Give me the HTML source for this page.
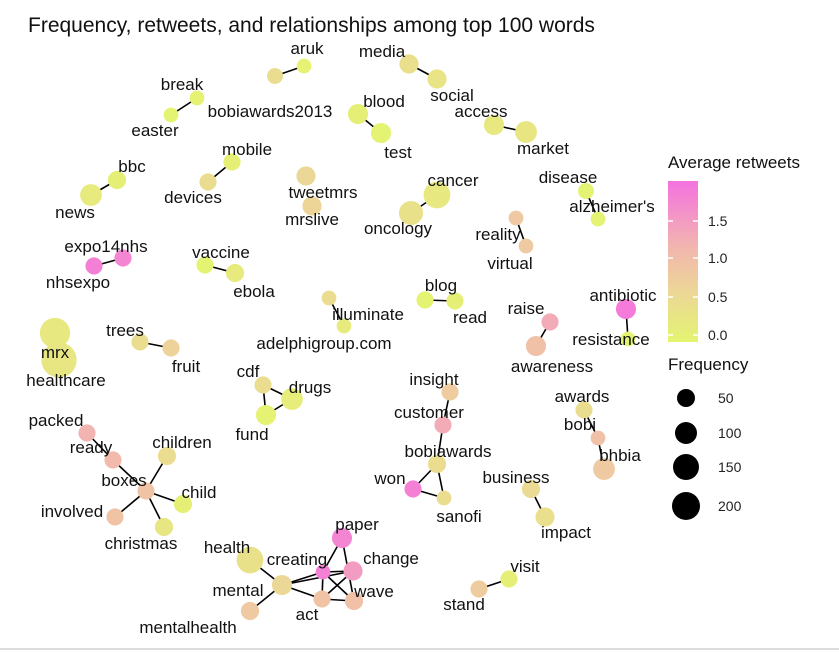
<!DOCTYPE html>
<html><head><meta charset="utf-8"><style>
html,body{margin:0;padding:0;background:#fff;}
svg{display:block;font-family:"Liberation Sans",sans-serif;}
</style></head><body>
<svg id="chart" width="839" height="652">
<rect x="0" y="0" width="839" height="652" fill="#fff"/>
<line x1="0" y1="649" x2="839" y2="649" stroke="#ddd" stroke-width="2"/>
<text x="28" y="32" font-size="21" fill="#111">Frequency, retweets, and relationships among top 100 words</text>
<g id="edges"></g><g id="nodes"></g><g id="labels"></g>
<g id="legend">
<defs><linearGradient id="grad" x1="0" y1="1" x2="0" y2="0">
<stop offset="0" stop-color="#e4f470"/><stop offset="0.3" stop-color="#ecd896"/><stop offset="0.6" stop-color="#f2b4b0"/><stop offset="1" stop-color="#f472e0"/></linearGradient></defs>
<text x="668" y="168" font-size="17" fill="#111">Average retweets</text>
<rect x="668" y="181" width="30" height="161" fill="url(#grad)"/>
<g font-size="14" fill="#222">
<text x="708" y="226">1.5</text>
<text x="708" y="263">1.0</text>
<text x="708" y="302">0.5</text>
<text x="708" y="340">0.0</text>
</g>
<g stroke="#fff" stroke-width="1.5">
<line x1="668" y1="221" x2="673" y2="221"/><line x1="693" y1="221" x2="698" y2="221"/>
<line x1="668" y1="258" x2="673" y2="258"/><line x1="693" y1="258" x2="698" y2="258"/>
<line x1="668" y1="297" x2="673" y2="297"/><line x1="693" y1="297" x2="698" y2="297"/>
<line x1="668" y1="335" x2="673" y2="335"/><line x1="693" y1="335" x2="698" y2="335"/>
</g>
<text x="668" y="370" font-size="17" fill="#111">Frequency</text>
<circle cx="686" cy="398" r="9" fill="#000"/>
<circle cx="686" cy="433" r="11" fill="#000"/>
<circle cx="686" cy="467" r="13" fill="#000"/>
<circle cx="686" cy="506" r="14" fill="#000"/>
<g font-size="14" fill="#222">
<text x="718" y="403">50</text><text x="718" y="438">100</text><text x="718" y="472">150</text><text x="718" y="511">200</text>
</g>
</g>
</svg>
<script>
const words=["aruk","bobiawards2013","media","social","break","easter","blood","test","access","market","mobile","devices","bbc","news","tweetmrs","mrslive","cancer","oncology","disease","alzheimer's","reality","virtual","expo14nhs","nhsexpo","vaccine","ebola","illuminate","adelphigroup.com","blog","read","antibiotic","resistance","raise","awareness","mrx","healthcare","trees","fruit","cdf","drugs","fund","insight","customer","bobiawards","won","sanofi","awards","bobi","bhbia","business","impact","packed","ready","children","boxes","child","involved","christmas","paper","health","creating","change","mental","wave","act","mentalhealth","visit","stand"];
const nodeX=[304,275,409,437,197,171,358,381,494,526,232,208,117,91,306,312,437,411,586,598,516,526,123,94,205,235,329,344,425,455,626,628,550,536,55,59,140,171,263,292,266,450,443,437,413,444,584,598,604,531,545,87,113,167,146,183,115,164,342,250,323,353,282,354,322,250,509,479];
const nodeY=[66,76,64,79,98,115,114,133,125,132,162,182,180,195,176,206,195,213,191,219,218,246,258,266,265,273,298,326,300,301,309,339,322,346,333,360,342,348,385,399,415,392,425,464,489,498,410,438,469,489,517,433,460,456,491,504,517,527,538,560,572,571,585,601,599,611,579,589];
const frequency=[20,25,40,40,20,20,45,45,45,55,30,30,35,55,40,40,90,70,25,20,20,20,30,30,30,35,20,20,30,30,45,20,30,45,120,170,30,30,30,55,45,30,30,35,30,20,30,20,55,35,40,30,30,35,30,35,30,35,45,90,20,40,45,35,30,35,30,30];
const retweets=[0.05,0.5,0.45,0.35,0.05,0.02,0.1,0.03,0.25,0.3,0.1,0.5,0.1,0.2,0.6,0.65,0.25,0.4,0.03,0.03,0.85,0.85,1.7,1.75,0.03,0.2,0.5,0.2,0.03,0.1,1.8,0.02,1.3,1.0,0.25,0.3,0.5,0.7,0.5,0.15,0.05,0.8,1.3,0.5,1.75,0.5,0.5,1.0,0.85,0.55,0.45,1.2,1.1,0.5,0.95,0.1,0.95,0.3,1.7,0.4,1.75,1.45,0.6,1.0,0.95,0.85,0.1,0.8];
const edgeFrom=["aruk","media","break","blood","access","mobile","bbc","cancer","disease","reality","expo14nhs","vaccine","illuminate","blog","antibiotic","raise","mrx","trees","cdf","cdf","drugs","insight","customer","bobiawards","bobiawards","won","awards","bobi","business","packed","ready","children","boxes","boxes","boxes","paper","health","creating","creating","creating","creating","change","mental","mental","act","visit","change","paper"];
const edgeTo=["bobiawards2013","social","easter","test","market","devices","news","oncology","alzheimer's","virtual","nhsexpo","ebola","adelphigroup.com","read","resistance","awareness","healthcare","fruit","drugs","fund","fund","customer","bobiawards","won","sanofi","sanofi","bobi","bhbia","impact","ready","boxes","boxes","child","involved","christmas","creating","mental","mental","change","wave","act","act","act","mentalhealth","wave","stand","mental","wave"];
const labelX=[307,270,382,452,182,155,384,398,481,543,247,193,132,75,323,312,453,398,568,612,498,510,106,78,221,254,368,324,441,470,623,611,526,552,55,66,125,186,248,310,252,434,429,448,390,459,582,580,620,516,566,56,91,182,124,199,72,141,357,227,297,391,238,374,307,188,525,464];
const labelY=[54,117,57,101,90,136,107,158,117,154,155,203,172,218,198,225,186,234,183,212,240,269,252,288,258,297,320,349,291,323,301,345,314,372,358,386,336,372,377,393,440,385,418,457,484,522,402,430,461,483,538,426,453,448,486,498,517,549,530,553,565,564,596,597,620,633,572,610];
const edges=document.getElementById('edges'),nodes=document.getElementById('nodes'),labels=document.getElementById('labels');
const NS='http://www.w3.org/2000/svg';
function rScale(f){return 2+Math.sqrt(f)*1.2;}
function lerp(a,b,t){return a.map((v,i)=>Math.round(v+(b[i]-v)*t));}
function colorScale(v){const stops=[[0,[228,244,112]],[0.6,[236,216,150]],[1.2,[242,180,176]],[1.9,[244,114,224]]];
 for(let i=0;i<stops.length-1;i++){if(v<=stops[i+1][0]){const t=(v-stops[i][0])/(stops[i+1][0]-stops[i][0]);const c=lerp(stops[i][1],stops[i+1][1],Math.max(0,t));return `rgb(${c})`;}}
 return `rgb(${stops[3][1]})`;}
for(let i=0;i<edgeFrom.length;i++){
 const a=words.indexOf(edgeFrom[i]),b=words.indexOf(edgeTo[i]);
 const l=document.createElementNS(NS,'line');
 l.setAttribute('x1',nodeX[a]);l.setAttribute('y1',nodeY[a]);l.setAttribute('x2',nodeX[b]);l.setAttribute('y2',nodeY[b]);
 l.setAttribute('stroke','#000');l.setAttribute('stroke-width','1.6');
 
 
 edges.appendChild(l);}
for(let i=0;i<words.length;i++){
 const c=document.createElementNS(NS,'circle');
 c.setAttribute('cx',nodeX[i]);c.setAttribute('cy',nodeY[i]);c.setAttribute('r',rScale(frequency[i]));c.setAttribute('fill',colorScale(retweets[i]));
 
 
 nodes.appendChild(c);
 const t=document.createElementNS(NS,'text');
 t.setAttribute('x',labelX[i]);t.setAttribute('y',labelY[i]);t.setAttribute('text-anchor','middle');t.setAttribute('font-size','17');t.setAttribute('fill','#111');
 t.textContent=words[i];
 
 
 labels.appendChild(t);}
</script>
</body></html>
